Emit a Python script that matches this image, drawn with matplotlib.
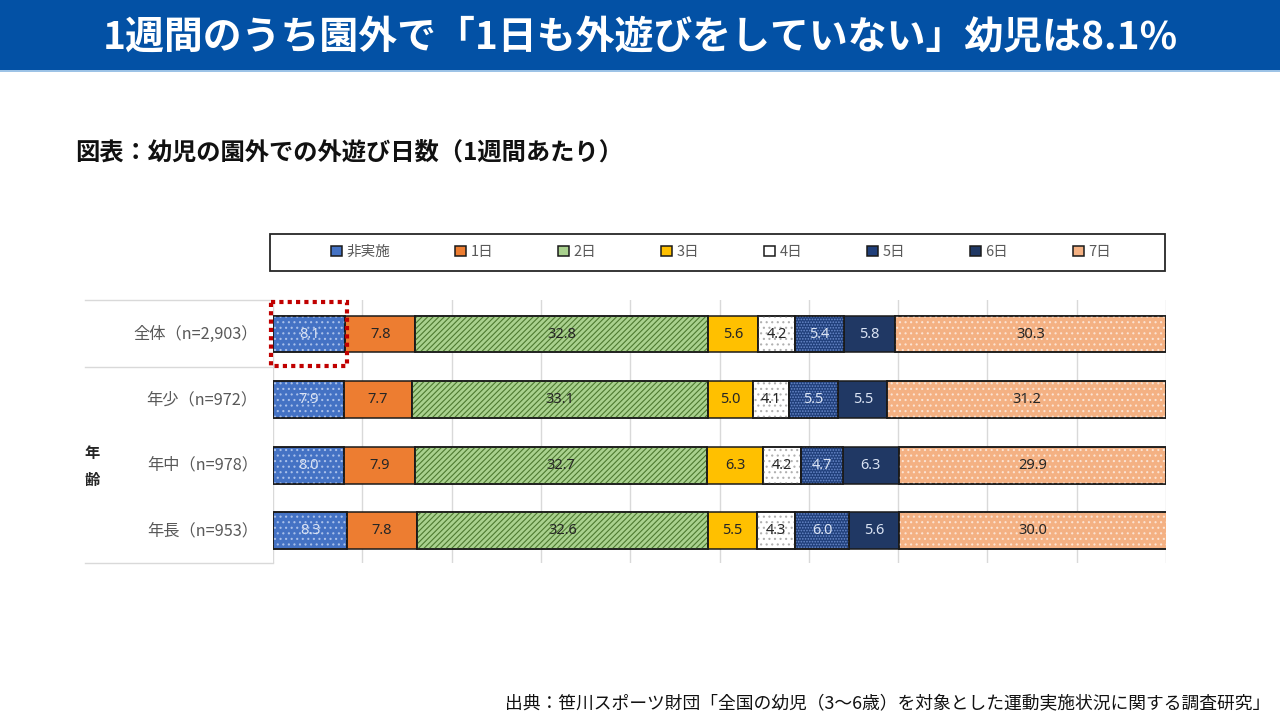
import matplotlib
matplotlib.use("Agg")
import matplotlib.pyplot as plt
from matplotlib.patches import Rectangle, Patch
import numpy as np

plt.rcParams['font.family'] = ['Noto Sans CJK JP', 'DejaVu Sans']
plt.rcParams['hatch.linewidth'] = 0.8

title = "1週間のうち園外で「1日も外遊びをしていない」幼児は8.1%"
subtitle = "図表：幼児の園外での外遊び日数（1週間あたり）"
source = "出典：笹川スポーツ財団「全国の幼児（3～6歳）を対象とした運動実施状況に関する調査研究」"

categories = ["全体（n=2,903）", "年少（n=972）", "年中（n=978）", "年長（n=953）"]
series = ["非実施", "1日", "2日", "3日", "4日", "5日", "6日", "7日"]
values = [
    [8.1, 7.8, 32.8, 5.6, 4.2, 5.4, 5.8, 30.3],
    [7.9, 7.7, 33.1, 5.0, 4.1, 5.5, 5.5, 31.2],
    [8.0, 7.9, 32.7, 6.3, 4.2, 4.7, 6.3, 29.9],
    [8.3, 7.8, 32.6, 5.5, 4.3, 6.0, 5.6, 30.0],
]

face = ["#4472C4", "#ED7D31", "#A9D18E", "#FFC000", "#FFFFFF", "#203F7A", "#203864", "#F4B183"]
hatch = ["...", None, "//////", None, "...", "......", None, "..."]
hcol = ["#A9C0EA", None, "#4E7A30", None, "#B0B0B0", "#6A8ACB", None, "#FBE3D3"]
tcol = ["#DAE3F3", "#262626", "#262626", "#262626", "#262626", "#DAE3F3", "#DAE3F3", "#262626"]

W, H = 1280, 720
fig = plt.figure(figsize=(12.8, 7.2), dpi=100)
fig.patch.set_facecolor("white")

# title banner
fig.patches.append(Rectangle((0, 1 - 70 / H), 1, 70 / H, transform=fig.transFigure,
                             facecolor="#0351A5", edgecolor="none", zorder=0))
fig.patches.append(Rectangle((0, 1 - 72 / H), 1, 2 / H, transform=fig.transFigure,
                             facecolor="#9DC3E6", edgecolor="none", zorder=0))
fig.text(0.5, 1 - 37 / H, title, color="white", fontsize=28, fontweight="bold",
         ha="center", va="center")
fig.text(75 / W, 1 - 153 / H, subtitle, color="#111111", fontsize=17.5, fontweight="bold",
         ha="left", va="center")
fig.text(1270 / W, 1 - 703 / H, source, color="#111111", fontsize=12.8,
         ha="right", va="center")

# axes
left, right = 273 / W, 1166 / W
bottom, top = 1 - 563 / H, 1 - 300 / H
ax = fig.add_axes([left, bottom, right - left, top - bottom])
ax.set_xlim(0, 100)
ax.set_ylim(3.49, -0.52)
for s in ax.spines.values():
    s.set_visible(False)
ax.set_xticks([])
ax.set_yticks([])
for gx in np.arange(0, 101, 10):
    ax.axvline(gx, color="#D9D9D9", lw=1, zorder=0)

y = np.arange(len(categories))
vals = np.array(values)
lefts = np.zeros(len(categories))
bh = 0.56
for j in range(len(series)):
    ax.barh(y, vals[:, j], left=lefts, height=bh, color=face[j], edgecolor="#1A1A1A",
            lw=1.1, zorder=2)
    if hatch[j]:
        ax.barh(y, vals[:, j], left=lefts, height=bh, color="none", edgecolor=hcol[j],
                hatch=hatch[j], lw=0, zorder=3)
        ax.barh(y, vals[:, j], left=lefts, height=bh, fill=False, edgecolor="#1A1A1A",
                lw=1.1, zorder=4)
    for i in range(len(categories)):
        ax.text(lefts[i] + vals[i, j] / 2, y[i], f"{vals[i, j]:.1f}", ha="center", va="center",
                fontsize=10.5, color=tcol[j], zorder=5, family=["Noto Sans", "DejaVu Sans"])
    lefts = lefts + vals[:, j]

# category labels
for i, c in enumerate(categories):
    ax.text(-0.017, y[i], c, transform=ax.get_yaxis_transform(), ha="right", va="center",
            fontsize=11.7, color="#595959")
ax.text((92 - 273) / 893, 2.02, "年\n齢", transform=ax.get_yaxis_transform(), ha="center",
        va="center", fontsize=11, color="#262626", fontweight="bold", linespacing=1.9)

# separator lines on the left
xl = (85 - 273) / 893
for yy in [-0.52, 0.5, 3.49]:
    ax.plot([xl, 0], [yy, yy], transform=ax.get_yaxis_transform(), color="#D9D9D9",
            lw=1, clip_on=False)

# red dotted highlight
ax.add_patch(Rectangle((-0.2, -0.49), vals[0, 0] + 0.35, 0.98, fill=False,
                       edgecolor="#C00000", lw=3, ls=(0, (1, 1)), clip_on=False, zorder=6))

# legend
fig.patches.append(Rectangle((270 / W, 1 - 271 / H), 895 / W, 37 / H, transform=fig.transFigure,
                             facecolor="white", edgecolor="#262626", lw=1.3))
handles = []
for j in range(len(series)):
    handles.append(Patch(facecolor=face[j], edgecolor="#1A1A1A", lw=1.1))
leg = fig.legend(handles, series, loc="center", bbox_to_anchor=(721 / W, 1 - 252 / H),
                 ncol=8, frameon=False, fontsize=10.5, columnspacing=4.45, handlelength=0.75,
                 handleheight=0.75, handletextpad=0.3)
for t in leg.get_texts():
    t.set_color("#595959")

fig.savefig("out.png", dpi=100)
